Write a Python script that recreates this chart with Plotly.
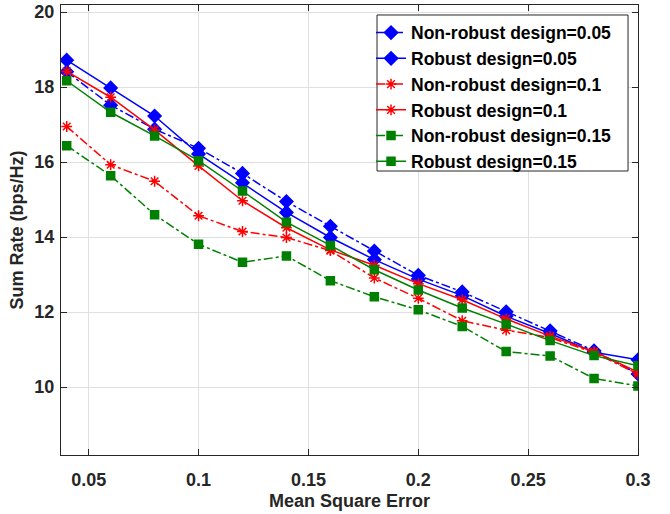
import plotly.graph_objects as go

mse = [0.04, 0.06, 0.08, 0.10, 0.12, 0.14, 0.16, 0.18, 0.20, 0.22, 0.24, 0.26, 0.28, 0.30]

nonrobust_005 = [18.41, 17.52, 16.88, 16.37, 15.70, 14.95, 14.29, 13.63, 12.98, 12.54, 12.01, 11.50, 10.97, 10.35]
robust_005 = [18.72, 17.98, 17.23, 16.22, 15.45, 14.66, 13.99, 13.40, 12.88, 12.44, 11.89, 11.43, 10.93, 10.73]
nonrobust_01 = [16.95, 15.93, 15.49, 14.57, 14.15, 13.99, 13.64, 12.91, 12.37, 11.77, 11.52, 11.32, 10.92, 10.35]
robust_01 = [18.42, 17.73, 16.86, 15.90, 14.97, 14.25, 13.66, 13.25, 12.76, 12.33, 11.82, 11.36, 10.95, 10.40]
nonrobust_015 = [16.44, 15.64, 14.60, 13.81, 13.33, 13.50, 12.84, 12.41, 12.06, 11.62, 10.95, 10.83, 10.23, 10.03]
robust_015 = [18.17, 17.33, 16.70, 16.04, 15.23, 14.40, 13.78, 13.13, 12.59, 12.11, 11.68, 11.24, 10.84, 10.57]

x_ticks = [0.05, 0.1, 0.15, 0.2, 0.25, 0.3]
x_tick_labels = ["0.05", "0.1", "0.15", "0.2", "0.25", "0.3"]
y_ticks = [10, 12, 14, 16, 18, 20]
y_tick_labels = ["10", "12", "14", "16", "18", "20"]

series = [
    ("Non-robust design=0.05", nonrobust_005, "#0000FF", "dashdot", "diamond", 10),
    ("Robust design=0.05", robust_005, "#0000FF", "solid", "diamond", 10),
    ("Non-robust design=0.1", nonrobust_01, "#FF0000", "dashdot", "asterisk-open", 9),
    ("Robust design=0.1", robust_01, "#FF0000", "solid", "asterisk-open", 9),
    ("Non-robust design=0.15", nonrobust_015, "#008000", "dashdot", "square", 8),
    ("Robust design=0.15", robust_015, "#008000", "solid", "square", 8),
]

fig = go.Figure()
for name, ys, col, dash, sym, sz in series:
    fig.add_trace(go.Scatter(
        x=mse, y=ys, name=name, mode="lines+markers",
        line=dict(color=col, width=1.5, dash=dash),
        marker=dict(symbol=sym, size=sz, color=col, line=dict(color=col, width=1.5)),
    ))

font_family = "Liberation Sans Narrow, Liberation Sans, Arial, sans-serif"

axis_common = dict(
    showline=True, linecolor="#262626", linewidth=1, mirror="allticks",
    ticks="inside", ticklen=6, tickcolor="#262626",
    showgrid=True, gridcolor="#E0E0E0", gridwidth=1, zeroline=False,
    tickfont=dict(family=font_family, size=18, color="#262626"),
    automargin=False,
)

fig.update_xaxes(
    range=[0.0374, 0.3], tickvals=x_ticks, ticktext=[f"<b>{t}</b>" for t in x_tick_labels],
    ticklabelstandoff=8,
    title=dict(text="<b>Mean Square Error</b>", font=dict(family=font_family, size=18, color="#262626"), standoff=5),
    **axis_common,
)
fig.update_yaxes(
    range=[8.19, 20.19], tickvals=y_ticks, ticktext=[f"<b>{t}</b>" for t in y_tick_labels],
    ticklabelstandoff=2,
    title=dict(text="<b>Sum Rate (bps/Hz)</b>", font=dict(family=font_family, size=18, color="#262626"), standoff=6),
    **axis_common,
)

# legend frame
fig.add_shape(
    type="rect", xref="paper", yref="paper",
    x0=0.5477, x1=0.9827, y0=0.6311, y1=0.9778,
    fillcolor="white", line=dict(color="#262626", width=1), layer="above",
)

fig.update_layout(
    width=670, height=514,
    margin=dict(l=61, r=32, t=5, b=59),
    plot_bgcolor="white", paper_bgcolor="white",
    font=dict(family=font_family, color="#262626"),
    legend=dict(
        x=0.5373, y=0.9784, xanchor="left", yanchor="top",
        bgcolor="rgba(0,0,0,0)", borderwidth=0,
        font=dict(family=font_family, size=17.5, color="black", weight="bold"),
        tracegroupgap=0, itemwidth=30,
    ),
)

fig.write_html("out.html")
